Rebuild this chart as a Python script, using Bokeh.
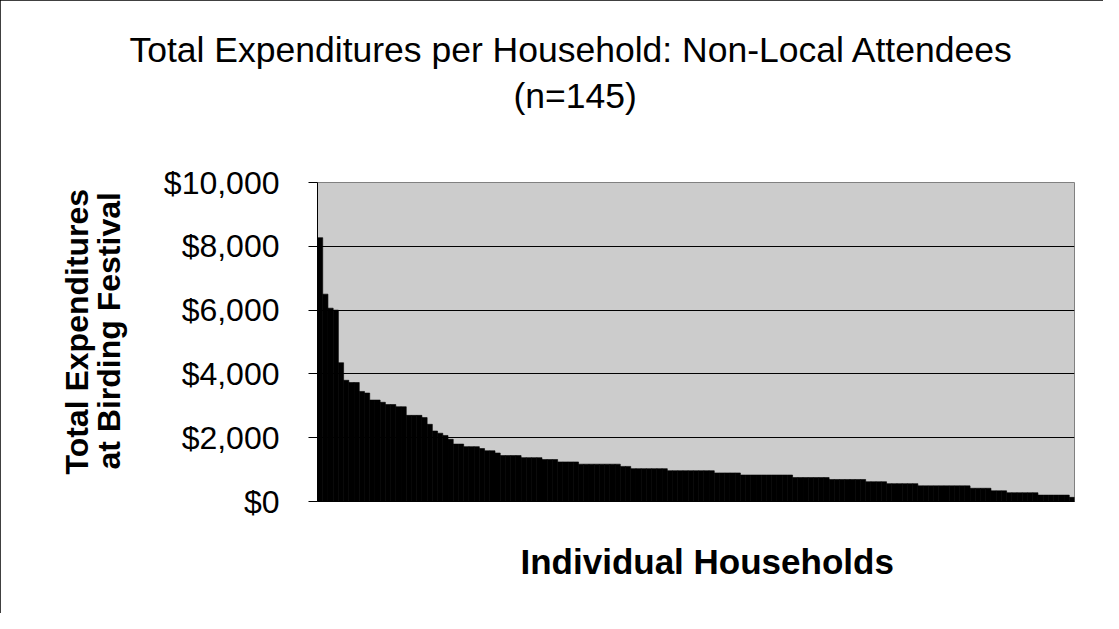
from bokeh.plotting import figure
from bokeh.models import Range1d, FixedTicker, NumeralTickFormatter, Title, ColumnDataSource
from bokeh.embed import file_html
from bokeh.resources import INLINE

title_line1 = "Total Expenditures per Household: Non-Local Attendees"
title_line2 = "(n=145)"
y_label_line1 = "Total Expenditures"
y_label_line2 = "at Birding Festival"
x_label = "Individual Households"
y_ticks = [0, 2000, 4000, 6000, 8000, 10000]

# Total expenditures per household, sorted descending
expenditures = [
    8270, 6500, 6060, 6000, 4350, 3800, 3730, 3730, 3450, 3400,
    3180, 3180, 3110, 3040, 3040, 2970, 2970, 2700, 2700, 2700,
    2630, 2420, 2210, 2140, 2070, 1950, 1800, 1800, 1720, 1720,
    1720, 1660, 1590, 1590, 1520, 1440, 1440, 1440, 1440, 1375,
    1375, 1375, 1375, 1315, 1315, 1315, 1240, 1240, 1240, 1240,
    1170, 1170, 1170, 1170, 1170, 1170, 1170, 1170, 1100, 1100,
    1030, 1030, 1030, 1030, 1030, 1030, 1030, 965, 965, 965,
    965, 965, 965, 965, 965, 965, 895, 895, 895, 895,
    895, 830, 830, 830, 830, 830, 830, 830, 830, 830,
    830, 750, 750, 750, 750, 750, 750, 750, 690, 690,
    690, 690, 690, 690, 690, 620, 620, 620, 620, 560,
    560, 560, 560, 560, 560, 490, 490, 490, 490, 490,
    490, 490, 490, 490, 490, 415, 415, 415, 415, 335,
    335, 335, 275, 275, 275, 275, 275, 275, 200, 200,
    200, 200, 200, 200, 130,
]

n = len(expenditures)
households = list(range(1, n + 1))
src = ColumnDataSource(dict(x=[h - 0.5 for h in households], top=expenditures))

FONT = "Liberation Sans"

p = figure(width=1103, height=613, output_backend="svg", toolbar_location=None,
           x_range=Range1d(0, n), y_range=Range1d(0, 10000),
           min_border_left=317, min_border_right=29,
           min_border_top=182, min_border_bottom=112)

p.background_fill_color = "#CCCCCC"
p.border_fill_color = "white"
p.outline_line_color = "#808080"
p.outline_line_width = 1
p.styles = {"outline": "1px solid black", "outline-offset": "-1px"}

p.vbar(x="x", top="top", width=1, source=src, fill_color="black",
       line_color="black", line_width=0.6)

# y axis
p.yaxis.ticker = FixedTicker(ticks=y_ticks)
p.yaxis.formatter = NumeralTickFormatter(format="$0,0")
p.yaxis.major_label_text_font = FONT
p.yaxis.major_label_text_font_size = "32px"
p.yaxis.major_label_text_color = "black"
p.yaxis.major_tick_out = 9
p.yaxis.major_tick_in = 0
p.yaxis.minor_tick_line_color = None
p.yaxis.major_label_standoff = 29
p.yaxis.axis_line_color = "black"
p.yaxis.major_tick_line_color = "black"

# x axis: line only
p.xaxis.ticker = FixedTicker(ticks=[])
p.xaxis.major_label_text_font_size = "0px"
p.xaxis.major_tick_line_color = None
p.xaxis.minor_tick_line_color = None
p.xaxis.axis_line_color = "black"

p.ygrid.ticker = FixedTicker(ticks=y_ticks)
p.ygrid.grid_line_color = "black"
p.ygrid.grid_line_width = 1
p.xgrid.visible = False

def spacer(gap):
    return Title(text=" ", text_font_size="1px", standoff=gap)

# --- titles above (nearest first) ---
p.add_layout(spacer(64), "above")
p.add_layout(Title(text=title_line2, text_font=FONT, text_font_size="35.5px",
                   text_font_style="normal", text_color="black",
                   align="left", offset=196, standoff=0), "above")
p.title.text = title_line1
p.title.text_font = FONT
p.title.text_font_size = "35.5px"
p.title.text_font_style = "normal"
p.title.text_color = "black"
p.title.align = "left"
p.title.offset = -188
p.title.standoff = 8

# --- y label (two lines), nearest first ---
p.add_layout(spacer(31), "left")
p.add_layout(Title(text=y_label_line2, text_font=FONT, text_font_size="32px",
                   text_font_style="bold", text_color="black",
                   align="left", offset=32, standoff=0), "left")
p.add_layout(Title(text=y_label_line1, text_font=FONT, text_font_size="32px",
                   text_font_style="bold", text_color="black",
                   align="left", offset=27, standoff=-12), "left")

# --- x label ---
p.add_layout(spacer(35), "below")
p.add_layout(Title(text=x_label, text_font=FONT, text_font_size="35px",
                   text_font_style="bold", text_color="black",
                   align="left", offset=203, standoff=0), "below")

open("out.html", "w").write(file_html(p, INLINE))
